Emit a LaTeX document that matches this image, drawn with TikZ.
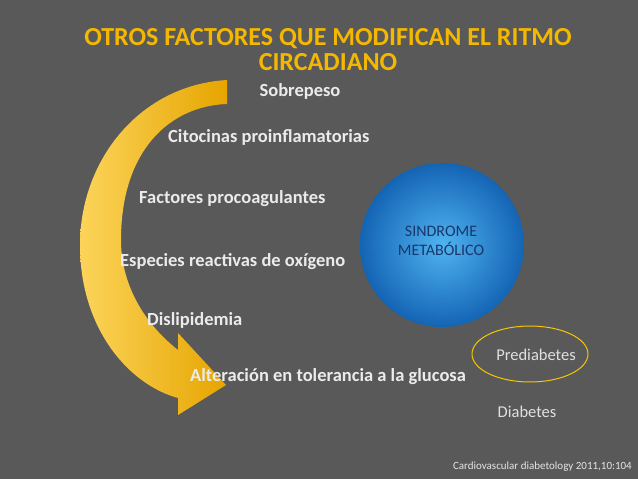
\documentclass[tikz,border=0pt]{standalone}
\usepackage{fontspec}
\setmainfont{Carlito}
\begin{document}
\begin{tikzpicture}[x=1pt,y=-1pt,
  item/.style={text=white!92!black,font=\bfseries\fontsize{18.5}{20}\selectfont,inner sep=0pt},
  plain/.style={text=white!88!black,font=\fontsize{16.5}{18}\selectfont,inner sep=0pt}]
\definecolor{bg}{HTML}{595959}
\definecolor{ttl}{HTML}{F5B800}
\fill[bg] (0,0) rectangle (638,479);
\useasboundingbox (0,0) rectangle (638,479);
% curved arrow
\shade[left color={rgb,255:red,252;green,212;blue,90}, right color={rgb,255:red,230;green,165;blue,0}]
 (227,80) .. controls (140,85) and (80,160) .. (80,245)
 .. controls (80,330) and (130,385) .. (178,398) -- (178,415) -- (226,385) -- (178,333) -- (178,350)
 .. controls (140,320) and (121,280) .. (121,240)
 .. controls (121,150) and (170,106) .. (227,104) -- cycle;
\node[text=ttl,font=\bfseries\fontsize{26}{25}\selectfont,align=center] (title) at (328,50) {OTROS FACTORES QUE MODIFICAN EL RITMO\\CIRCADIANO};
\node[item] (s) at (300,91) {Sobrepeso};
\node[item,anchor=west] (c) at (168,137) {Citocinas proinflamatorias};
\node[item,anchor=west] (f) at (139,199) {Factores procoagulantes};
\node[item,anchor=west] (e) at (120,262) {Especies reactivas de oxígeno};
\node[item,anchor=west] (d) at (147,320) {Dislipidemia};
\node[item,anchor=west] (a) at (190,377) {Alteración en tolerancia a la glucosa};
\shade[inner color={rgb,255:red,80;green,180;blue,240}, outer color={rgb,255:red,20;green,100;blue,180}] (442,245) circle (82);
\node[text={rgb,255:red,25;green,55;blue,110},font=\fontsize{16}{19}\selectfont,align=center] (sm) at (441,241) {SINDROME\\METABÓLICO};
\draw[ttl!80!yellow,line width=1pt] (530,354) ellipse (58 and 28);
\node[plain] (p) at (536,355) {Prediabetes};
\node[plain] (db) at (527,412) {Diabetes};
\node[text=white!90!black,font=\fontsize{11}{12}\selectfont,anchor=east,inner sep=0pt] (cite) at (632,467) {Cardiovascular diabetology 2011,10:104};
\end{tikzpicture}
\end{document}
